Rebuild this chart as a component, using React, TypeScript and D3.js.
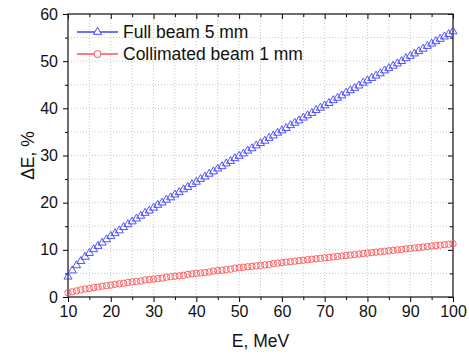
import React, { useEffect, useRef } from "react";
import * as d3 from "d3";

// energy, MeV (one marker per MeV)
const energy: number[] = d3.range(10, 101);

// full beam 5 mm, dE %
const fullBeam: number[] = [
  4.3, 5.6, 6.7, 7.6, 8.5, 9.3, 10.1, 10.8, 11.5, 12.2, 12.9,
  13.5, 14.1, 14.8, 15.4, 16.0, 16.6, 17.2, 17.8, 18.3, 18.9,
  19.5, 20.0, 20.6, 21.1, 21.7, 22.2, 22.8, 23.3, 23.9, 24.4,
  25.0, 25.5, 26.1, 26.6, 27.2, 27.7, 28.3, 28.8, 29.4, 29.9,
  30.4, 31.0, 31.5, 32.1, 32.6, 33.1, 33.7, 34.2, 34.8, 35.3,
  35.8, 36.4, 36.9, 37.4, 38.0, 38.5, 39.0, 39.6, 40.1, 40.6,
  41.1, 41.7, 42.2, 42.7, 43.3, 43.8, 44.3, 44.8, 45.4, 45.9,
  46.4, 46.9, 47.4, 48.0, 48.5, 49.0, 49.5, 50.0, 50.6, 51.1,
  51.6, 52.1, 52.6, 53.2, 53.7, 54.2, 54.7, 55.2, 55.7, 56.3
];

// collimated beam 1 mm, dE %
const collimated: number[] = [
  0.9, 1.1, 1.3, 1.5, 1.7, 1.8, 2.0, 2.1, 2.3, 2.4, 2.5,
  2.7, 2.8, 2.9, 3.1, 3.2, 3.3, 3.4, 3.6, 3.7, 3.8,
  3.9, 4.0, 4.2, 4.3, 4.4, 4.5, 4.6, 4.8, 4.9, 5.0,
  5.1, 5.2, 5.3, 5.5, 5.6, 5.7, 5.8, 5.9, 6.1, 6.2,
  6.3, 6.4, 6.5, 6.6, 6.7, 6.8, 6.9, 7.1, 7.2, 7.3,
  7.4, 7.5, 7.6, 7.7, 7.8, 7.9, 8.0, 8.1, 8.2, 8.3,
  8.4, 8.5, 8.6, 8.7, 8.8, 8.9, 9.0, 9.1, 9.2, 9.3,
  9.4, 9.5, 9.6, 9.7, 9.8, 9.9, 10.0, 10.1, 10.2, 10.3,
  10.4, 10.5, 10.6, 10.7, 10.8, 10.9, 11.0, 11.1, 11.2, 11.3
];

const xTicks: number[] = [10, 20, 30, 40, 50, 60, 70, 80, 90, 100];
const yTicks: number[] = [0, 10, 20, 30, 40, 50, 60];
const legendLabels: string[] = ["Full beam 5 mm", "Collimated beam 1 mm"];

const W = 469;
const H = 355;
const m = { left: 68, right: 16, top: 14, bottom: 58 };
const font = "Arial, 'Liberation Sans', sans-serif";
const blue = "#4040ff";
const red = "#ff5050";

export default function App() {
  const svgRef = useRef<SVGSVGElement>(null);

  useEffect(() => {
    const svg = d3.select(svgRef.current);
    svg.selectAll("*").remove();

    const x = d3.scaleLinear().domain([10, 100]).range([m.left, W - m.right]);
    const y = d3.scaleLinear().domain([0, 60]).range([H - m.bottom, m.top]);
    const [x0, x1] = x.range();
    const [y0, y1] = y.range();

    // grid, every 5
    const grid = svg.append("g").attr("stroke", "#c8c8c8").attr("stroke-dasharray", "1,2");
    d3.range(15, 100, 5).forEach(v => {
      grid.append("line").attr("x1", x(v)).attr("x2", x(v)).attr("y1", y0).attr("y2", y1);
    });
    d3.range(5, 60, 5).forEach(v => {
      grid.append("line").attr("x1", x0).attr("x2", x1).attr("y1", y(v)).attr("y2", y(v));
    });

    // axes
    const fmt = d3.format("d");
    svg.append("g")
      .attr("transform", `translate(0, ${y0})`)
      .call(d3.axisBottom(x).tickValues(d3.range(10, 101, 5)).tickSize(5).tickFormat(() => ""))
      .call(g => g.select(".domain").remove())
      .call(g => g.selectAll(".tick line").attr("y2", (d: any) => (d % 10 === 0 ? 5 : 3)));
    svg.append("g")
      .attr("transform", `translate(0, ${y0})`)
      .call(d3.axisBottom(x).tickValues(xTicks).tickSize(0).tickPadding(9).tickFormat(fmt as any))
      .call(g => g.select(".domain").remove())
      .selectAll("text")
      .attr("font-family", font)
      .attr("font-size", 16)
      .attr("fill", "#111");

    svg.append("g")
      .attr("transform", `translate(${x0}, 0)`)
      .call(d3.axisLeft(y).tickValues(d3.range(0, 61, 5)).tickSize(5).tickFormat(() => ""))
      .call(g => g.select(".domain").remove())
      .call(g => g.selectAll(".tick line").attr("x2", (d: any) => (d % 10 === 0 ? -5 : -3)));
    svg.append("g")
      .attr("transform", `translate(${x0}, 0)`)
      .call(d3.axisLeft(y).tickValues(yTicks).tickSize(0).tickPadding(10).tickFormat(fmt as any))
      .call(g => g.select(".domain").remove())
      .selectAll("text")
      .attr("font-family", font)
      .attr("font-size", 16)
      .attr("fill", "#111");

    // mirrored inward ticks on top and right
    svg.append("g")
      .attr("transform", `translate(0, ${y1})`)
      .call(d3.axisBottom(x).tickValues(d3.range(10, 101, 5)).tickSize(5).tickFormat(() => ""))
      .call(g => g.select(".domain").remove())
      .call(g => g.selectAll(".tick line").attr("y2", (d: any) => (d % 10 === 0 ? 5 : 3)));
    svg.append("g")
      .attr("transform", `translate(${x1}, 0)`)
      .call(d3.axisLeft(y).tickValues(d3.range(0, 61, 5)).tickSize(5).tickFormat(() => ""))
      .call(g => g.select(".domain").remove())
      .call(g => g.selectAll(".tick line").attr("x2", (d: any) => (d % 10 === 0 ? -5 : -3)));

    // frame
    svg.append("rect")
      .attr("x", x0).attr("y", y1)
      .attr("width", x1 - x0).attr("height", y0 - y1)
      .attr("fill", "none").attr("stroke", "#222").attr("stroke-width", 1.3);

    const tri = d3.symbol().type(d3.symbolTriangle).size(28);

    // series
    svg.append("g")
      .selectAll("circle")
      .data(collimated)
      .enter()
      .append("circle")
      .attr("cx", (d, i) => x(energy[i]))
      .attr("cy", d => y(d))
      .attr("r", 3.2)
      .attr("fill", "none")
      .attr("stroke", red)
      .attr("stroke-width", 0.9);

    svg.append("g")
      .selectAll("path")
      .data(fullBeam)
      .enter()
      .append("path")
      .attr("d", tri as any)
      .attr("transform", (d, i) => `translate(${x(energy[i])}, ${y(d)})`)
      .attr("fill", "none")
      .attr("stroke", blue)
      .attr("stroke-width", 0.9);

    // legend
    const leg = svg.append("g").attr("transform", "translate(77, 32)");
    legendLabels.forEach((label, i) => {
      const row = leg.append("g").attr("transform", `translate(0, ${i * 22})`);
      const c = i === 0 ? blue : red;
      row.append("line").attr("x1", 0).attr("x2", 41).attr("stroke", c).attr("stroke-width", 1.5);
      if (i === 0) {
        row.append("path").attr("d", tri as any).attr("transform", "translate(20.5, 0)")
          .attr("fill", "white").attr("stroke", c).attr("stroke-width", 1);
      } else {
        row.append("circle").attr("cx", 20.5).attr("r", 3.5)
          .attr("fill", "white").attr("stroke", c).attr("stroke-width", 1);
      }
      row.append("text")
        .attr("x", 46)
        .attr("y", 6)
        .attr("font-family", font)
        .attr("font-size", 17.5)
        .attr("fill", "#111")
        .text(label);
    });

    // axis titles
    svg.append("text")
      .attr("x", (x0 + x1) / 2)
      .attr("y", 347)
      .attr("text-anchor", "middle")
      .attr("font-family", font)
      .attr("font-size", 17.5)
      .attr("fill", "#111")
      .text("E, MeV");
    svg.append("text")
      .attr("transform", `translate(34, ${(y0 + y1) / 2}) rotate(-90)`)
      .attr("text-anchor", "middle")
      .attr("font-family", font)
      .attr("font-size", 17.5)
      .attr("fill", "#111")
      .text("ΔE, %");
  }, []);

  return (
    <svg
      ref={svgRef}
      width={W}
      height={H}
      style={{ position: "absolute", left: 0, top: 0, background: "white" }}
    />
  );
}
